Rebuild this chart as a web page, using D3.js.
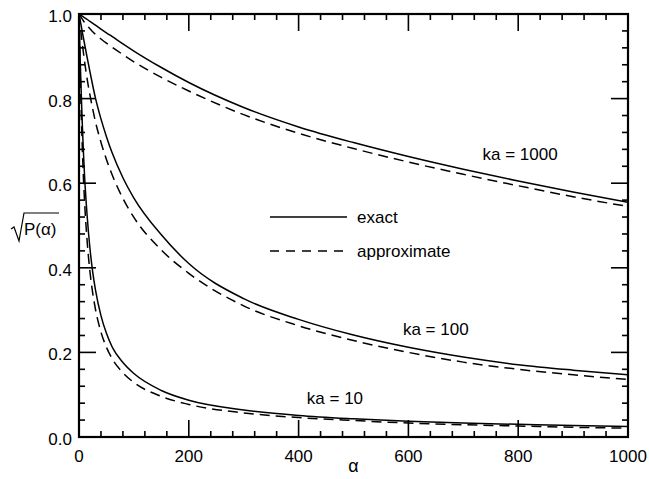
<!DOCTYPE html>
<html>
<head>
<meta charset="utf-8">
<script src="https://cdn.jsdelivr.net/npm/d3@7"></script>
<style>
  body { margin: 0; background: #fff; }
  svg { font-family: "Liberation Sans", Arial, Helvetica, sans-serif; }
</style>
</head>
<body>
<svg id="chart"></svg>
<script>
// alpha grid shared by every curve
const alpha = [0, 2, 4, 6, 8, 10, 15, 20, 25, 30, 40, 50, 60, 80, 100, 150, 200, 300, 400, 500, 600, 700, 800, 900, 1000];

const ka1000Exact = [1.0, 0.998, 0.9965, 0.9948, 0.9931, 0.9913, 0.987, 0.9825, 0.978, 0.9735, 0.9645, 0.9555, 0.947, 0.9295, 0.9125, 0.8735, 0.838, 0.779, 0.733, 0.696, 0.663, 0.633, 0.605, 0.579, 0.555];
const ka1000Approx = [1.0, 0.996, 0.992, 0.988, 0.984, 0.98, 0.972, 0.965, 0.958, 0.952, 0.941, 0.931, 0.922, 0.904, 0.887, 0.85, 0.818, 0.762, 0.718, 0.682, 0.65, 0.621, 0.594, 0.568, 0.545];
const ka100Exact = [1.0, 0.986, 0.972, 0.958, 0.944, 0.93, 0.896, 0.863, 0.831, 0.801, 0.752, 0.71, 0.673, 0.613, 0.565, 0.478, 0.41, 0.327, 0.278, 0.241, 0.212, 0.189, 0.171, 0.158, 0.147];
const ka100Approx = [1.0, 0.976, 0.952, 0.93, 0.909, 0.889, 0.845, 0.808, 0.775, 0.745, 0.697, 0.656, 0.621, 0.564, 0.519, 0.442, 0.387, 0.31, 0.263, 0.228, 0.2, 0.177, 0.16, 0.147, 0.136];
const ka10Exact = [1.0, 0.9, 0.815, 0.74, 0.675, 0.62, 0.52, 0.445, 0.39, 0.348, 0.287, 0.245, 0.214, 0.176, 0.15, 0.11, 0.087, 0.064, 0.051, 0.043, 0.037, 0.033, 0.03, 0.027, 0.025];
const ka10Approx = [1.0, 0.87, 0.77, 0.685, 0.615, 0.56, 0.46, 0.39, 0.34, 0.302, 0.248, 0.212, 0.186, 0.152, 0.129, 0.096, 0.077, 0.057, 0.046, 0.039, 0.033, 0.029, 0.026, 0.023, 0.021];

const xTicks = [0, 200, 400, 600, 800, 1000];
const yTicks = [0, 0.2, 0.4, 0.6, 0.8, 1.0];
const curveLabels = ["ka = 1000", "ka = 100", "ka = 10"];
const legendLabels = ["exact", "approximate"];

const w = 649;
const h = 479;
const margin = { left: 79, right: 21, top: 14, bottom: 42 };

const svg = d3.select("#chart").attr("width", w).attr("height", h);

const x = d3.scaleLinear().domain([0, 1000]).range([margin.left, w - margin.right]);
const y = d3.scaleLinear().domain([0, 1]).range([h - margin.bottom, margin.top]);

const bottom = h - margin.bottom;
const right = w - margin.right;

const minorX = d3.range(0, 1001, 40).filter((v) => v % 200 !== 0);
const minorY = d3.range(1, 25).filter((v) => v % 5 !== 0).map((v) => v * 0.04);

// frame
svg.append("rect")
  .attr("x", margin.left)
  .attr("y", margin.top)
  .attr("width", right - margin.left)
  .attr("height", bottom - margin.top)
  .attr("fill", "none")
  .attr("stroke", "#000")
  .attr("stroke-width", 2.2);

// ticks on all four sides, pointing inward
const ticks = svg.append("g");

function xTickMarks(values, len) {
  [bottom - len, margin.top].forEach((y0) => {
    ticks.selectAll(null).data(values).enter().append("rect")
      .attr("x", (d) => x(d) - 0.8)
      .attr("y", y0)
      .attr("width", 1.6)
      .attr("height", len)
      .attr("fill", "#000");
  });
}
function yTickMarks(values, len) {
  [margin.left, right - len].forEach((x0) => {
    ticks.selectAll(null).data(values).enter().append("rect")
      .attr("x", x0)
      .attr("y", (d) => y(d) - 0.8)
      .attr("width", len)
      .attr("height", 1.6)
      .attr("fill", "#000");
  });
}
xTickMarks(minorX, 6);
xTickMarks(xTicks, 17);
yTickMarks(minorY, 6);
yTickMarks(yTicks, 17);

// tick labels
svg.append("g")
  .selectAll("text")
  .data(xTicks)
  .enter()
  .append("text")
  .attr("x", (d) => x(d))
  .attr("y", bottom + 25)
  .attr("text-anchor", "middle")
  .style("font-size", "17px")
  .text(d3.format("d"));

svg.append("g")
  .selectAll("text")
  .data(yTicks)
  .enter()
  .append("text")
  .attr("x", margin.left - 7)
  .attr("y", (d) => y(d) + 8)
  .attr("text-anchor", "end")
  .style("font-size", "17px")
  .text(d3.format(".1f"));

// curves
const line = d3.line()
  .x((d) => x(d[0]))
  .y((d) => y(d[1]))
  .curve(d3.curveMonotoneX);

const series = [
  { values: ka1000Exact, dash: null },
  { values: ka1000Approx, dash: "10,6" },
  { values: ka100Exact, dash: null },
  { values: ka100Approx, dash: "10,6" },
  { values: ka10Exact, dash: null },
  { values: ka10Approx, dash: "10,6" }
];

svg.append("g")
  .selectAll("path")
  .data(series)
  .enter()
  .append("path")
  .attr("d", (d) => line(alpha.map((a, i) => [a, d.values[i]])))
  .attr("fill", "none")
  .attr("stroke", "#000")
  .attr("stroke-width", 1.5)
  .attr("stroke-dasharray", (d) => d.dash);

// curve labels
const labelPos = [[735, 0.655], [590, 0.242], [415, 0.078]];
svg.append("g")
  .selectAll("text")
  .data(curveLabels)
  .enter()
  .append("text")
  .attr("x", (d, i) => x(labelPos[i][0]))
  .attr("y", (d, i) => y(labelPos[i][1]))
  .style("font-size", "17px")
  .text((d) => d);

// legend
const legend = svg.append("g");
legendLabels.forEach((lab, i) => {
  const ly = 217 + i * 34;
  legend.append("line")
    .attr("x1", 270).attr("x2", 347)
    .attr("y1", ly).attr("y2", ly)
    .attr("stroke", "#000")
    .attr("stroke-width", 1.5)
    .attr("stroke-dasharray", i === 1 ? "9,7" : null);
  legend.append("text")
    .attr("x", 357)
    .attr("y", ly + 6)
    .style("font-size", "17px")
    .text(lab);
});

// axis titles
svg.append("text")
  .attr("x", x(500))
  .attr("y", 472)
  .attr("text-anchor", "middle")
  .style("font-size", "18px")
  .text("α");

const yl = svg.append("g");
yl.append("path")
  .attr("d", "M11,229 L14,227 L19,241 L24,213 L59,213")
  .attr("fill", "none")
  .attr("stroke", "#000")
  .attr("stroke-width", 1.2);
yl.append("text")
  .attr("x", 24)
  .attr("y", 235)
  .style("font-size", "17px")
  .text("P(α)");
</script>
</body>
</html>
